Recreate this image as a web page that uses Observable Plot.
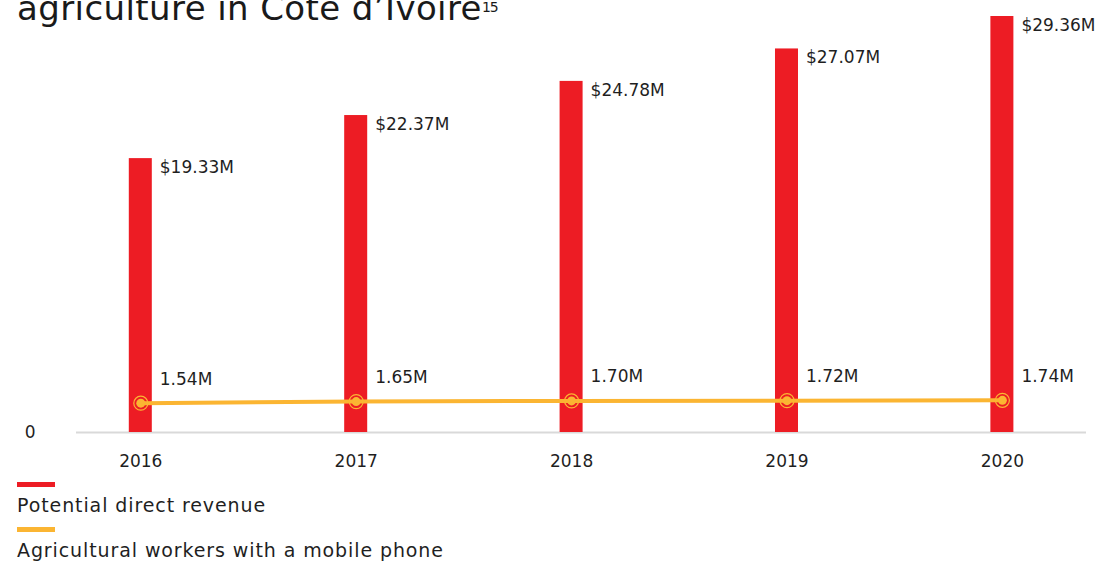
<!DOCTYPE html>
<html>
<head>
<meta charset="utf-8">
<script src="https://cdn.jsdelivr.net/npm/d3@7"></script>
<script src="https://cdn.jsdelivr.net/npm/@observablehq/plot@0.6"></script>
<style>
  html, body { margin: 0; padding: 0; background: #fff; }
  body { width: 1100px; height: 562px; overflow: hidden; position: relative; font-family: "DejaVu Sans", sans-serif; color: #1f1f1f; }
  #title { position: absolute; left: 17px; top: -9px; font-size: 34px; line-height: 34px; white-space: nowrap; color: #1a1a1a; letter-spacing: 0.4px; }
  #title sup { font-size: 14px; vertical-align: baseline; position: relative; top: -8px; letter-spacing: -1px; }
  #chart { position: absolute; left: 0; top: 0; }
  #legend { position: absolute; left: 17px; top: 482px; font-size: 19px; color: #1f1f1f; letter-spacing: 0.9px; }
  .sw { width: 38px; height: 5px; }
  .lt { line-height: 24px; margin-top: 6px; margin-bottom: 10px; white-space: nowrap; }
</style>
</head>
<body>
<div id="chart"></div>
<div id="title">agriculture in Côte d’Ivoire<sup>15</sup></div>
<div id="legend"></div>
<script>
const years = ["2016", "2017", "2018", "2019", "2020"];
const revenue = [19.33, 22.37, 24.78, 27.07, 29.36];   // $M, potential direct revenue
const workers = [1.54, 1.65, 1.70, 1.72, 1.74];        // M, agricultural workers with a mobile phone
const seriesNames = ["Potential direct revenue", "Agricultural workers with a mobile phone"];
const colors = ["#ED1C24", "#FBB532"];

const data = years.map((y, i) => ({year: y, revenue: revenue[i], workers: workers[i]}));

const plot = Plot.plot({
  width: 1100,
  height: 480,
  marginTop: 16,
  marginBottom: 48,
  marginLeft: 76,
  marginRight: 14,
  style: {fontFamily: "DejaVu Sans, sans-serif", fontSize: "17px", color: "#1f1f1f", background: "transparent"},
  x: {domain: years, paddingInner: 0.8932, paddingOuter: 0.2911, align: 0.421, round: false, label: null},
  y: {domain: [0, 29.36], label: null},
  marks: [
    Plot.ruleY([0], {stroke: "#d9d9d9", strokeWidth: 2}),
    Plot.axisX({tickSize: 0, tickPadding: 22, fontSize: 17, label: null}),
    Plot.axisY({ticks: [0], tickSize: 0, tickPadding: 41, fontSize: 17, label: null}),
    Plot.barY(data, {x: "year", y: "revenue", fill: colors[0]}),
    Plot.text(data, {x: "year", y: "revenue", text: d => "$" + d.revenue.toFixed(2) + "M", textAnchor: "start", dx: 19, dy: 9, fontSize: 17, fill: "#1f1f1f"}),
    Plot.lineY(data, {x: "year", y: "workers", stroke: colors[1], strokeWidth: 4, dy: -7.5}),
    Plot.dot(data, {x: "year", y: "workers", r: 7, stroke: colors[1], strokeWidth: 1.2, fill: "none", dy: -7.5}),
    Plot.dot(data, {x: "year", y: "workers", r: 4.5, fill: colors[1], stroke: "none", dy: -7.5}),
    Plot.text(data, {x: "year", y: "workers", text: d => d.workers.toFixed(2) + "M", textAnchor: "start", dx: 19, dy: -31.5, fontSize: 17, fill: "#1f1f1f"})
  ]
});
document.getElementById("chart").appendChild(plot);

const legend = document.getElementById("legend");
seriesNames.forEach((name, i) => {
  const sw = document.createElement("div");
  sw.className = "sw";
  sw.style.background = colors[i];
  const lt = document.createElement("div");
  lt.className = "lt";
  lt.textContent = name;
  legend.appendChild(sw);
  legend.appendChild(lt);
});
</script>
</body>
</html>
